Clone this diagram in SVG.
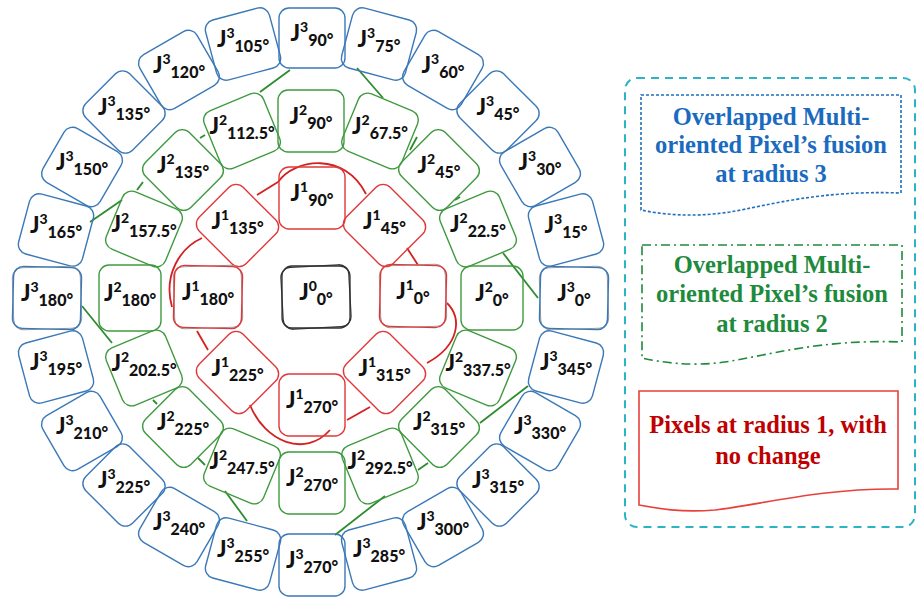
<svg xmlns="http://www.w3.org/2000/svg" width="919" height="598" viewBox="0 0 919 598">
<style>
  .b3{fill:none;stroke:#3a78b8;stroke-width:1.4}
  .b2{fill:none;stroke:#3f9a3f;stroke-width:1.4}
  .b1{fill:none;stroke:#e0383a;stroke-width:1.4}
  .b0{fill:none;stroke:#333;stroke-width:1.3}
  .sh{fill:none;stroke:#999;stroke-width:1}
  .lbl{font-family:Lato,"Liberation Sans",sans-serif;font-weight:900;font-size:22px;fill:#111;text-anchor:middle}
  .p{font-size:14px}
  .s{font-size:16px}
  .cg{fill:none;stroke:#2e8b2e;stroke-width:1.8}
  .cr{fill:none;stroke:#d42020;stroke-width:1.8}
  .lt{font-family:"Liberation Serif",serif;font-weight:bold;font-size:24.5px;text-anchor:middle}
</style>
<rect width="919" height="598" fill="#fff"/>

<g id="connectors">
  <path class="cg" d="M90,222 L122,200"/>
  <path class="cg" d="M137,190 L143,182"/>
  <path class="cg" d="M200,138 L205,135"/>
  <path class="cg" d="M260,92 L290,70"/>
  <path class="cg" d="M357,68 L383,98"/>
  <path class="cg" d="M410,150 L417,137"/>
  <path class="cg" d="M455,200 L460,197"/>
  <path class="cg" d="M503,253 L538,298"/>
  <path class="cg" d="M528,386 L480,423"/>
  <path class="cg" d="M428,463 L418,470"/>
  <path class="cg" d="M385,496 L335,535"/>
  <path class="cg" d="M247,521 L225,491"/>
  <path class="cg" d="M198,458 L205,465"/>
  <path class="cg" d="M153,400 L157,404"/>
  <path class="cg" d="M82,306 L112,343"/>
  <path class="cr" d="M257,195 L278,182"/>
  <path class="cr" d="M278,182 C295,158 345,152 366,194"/>
  <path class="cr" d="M407,248 L418,265"/>
  <path class="cr" d="M447,303 C462,318 460,345 427,363"/>
  <path class="cr" d="M370,407 L347,420"/>
  <path class="cr" d="M250,405 C265,442 305,458 330,430"/>
  <path class="cr" d="M197,331 L208,350"/>
  <path class="cr" d="M202,238 C180,248 163,275 172,307"/>
</g>

<g id="j0-0" transform="translate(316,297)">
  <rect class="b0" x="-34" y="-31" width="68" height="62" rx="10" transform="rotate(-3)"/>
  <rect class="b0" x="-34" y="-31" width="68" height="62" rx="10"/>
  <text class="lbl" y="3">J<tspan class="p" dy="-9">0</tspan><tspan class="s" dy="14">0°</tspan></text>
</g>

<g id="j1-0" transform="translate(413,296)">
  <rect class="sh" x="-33" y="-31" width="66" height="62" rx="10" transform="rotate(-2)"/>
  <rect class="b1" x="-33" y="-31" width="66" height="62" rx="10" transform="rotate(1.5)"/>
  <text class="lbl" y="3">J<tspan class="p" dy="-9">1</tspan><tspan class="s" dy="14">0°</tspan></text>
</g>
<g id="j1-45" transform="translate(384.5,225.5)">
  <rect class="b1" x="-33" y="-31" width="66" height="62" rx="10" transform="rotate(45)"/>
  <text class="lbl" y="3">J<tspan class="p" dy="-9">1</tspan><tspan class="s" dy="14">45°</tspan></text>
</g>
<g id="j1-90" transform="translate(312,198)">
  <rect class="b1" x="-33" y="-31" width="66" height="62" rx="10"/>
  <text class="lbl" y="3">J<tspan class="p" dy="-9">1</tspan><tspan class="s" dy="14">90°</tspan></text>
</g>
<g id="j1-135" transform="translate(237.5,225.5)">
  <rect class="b1" x="-33" y="-31" width="66" height="62" rx="10" transform="rotate(45)"/>
  <text class="lbl" y="3">J<tspan class="p" dy="-9">1</tspan><tspan class="s" dy="14">135°</tspan></text>
</g>
<g id="j1-180" transform="translate(208,297)">
  <rect class="sh" x="-34" y="-31" width="68" height="62" rx="10" transform="rotate(-2)"/>
  <rect class="b1" x="-34" y="-31" width="68" height="62" rx="10" transform="rotate(1.5)"/>
  <text class="lbl" y="3">J<tspan class="p" dy="-9">1</tspan><tspan class="s" dy="14">180°</tspan></text>
</g>
<g id="j1-225" transform="translate(237.5,372.5)">
  <rect class="b1" x="-33" y="-31" width="66" height="62" rx="10" transform="rotate(45)"/>
  <text class="lbl" y="3">J<tspan class="p" dy="-9">1</tspan><tspan class="s" dy="14">225°</tspan></text>
</g>
<g id="j1-270" transform="translate(312,405)">
  <rect class="b1" x="-33" y="-31" width="66" height="62" rx="10"/>
  <text class="lbl" y="3">J<tspan class="p" dy="-9">1</tspan><tspan class="s" dy="14">270°</tspan></text>
</g>
<g id="j1-315" transform="translate(384.5,372.5)">
  <rect class="b1" x="-33" y="-31" width="66" height="62" rx="10" transform="rotate(45)"/>
  <text class="lbl" y="3">J<tspan class="p" dy="-9">1</tspan><tspan class="s" dy="14">315°</tspan></text>
</g>

<g id="j2-0" transform="translate(492,298)">
  <rect class="b2" x="-31" y="-32" width="62" height="64" rx="10"/>
  <text class="lbl" y="3">J<tspan class="p" dy="-9">2</tspan><tspan class="s" dy="14">0°</tspan></text>
</g>
<g id="j2-22-5" transform="translate(478,229)">
  <rect class="b2" x="-32" y="-31" width="64" height="62" rx="10" transform="rotate(-22.5)"/>
  <text class="lbl" y="3">J<tspan class="p" dy="-9">2</tspan><tspan class="s" dy="14">22.5°</tspan></text>
</g>
<g id="j2-45" transform="translate(439,170)">
  <rect class="b2" x="-32" y="-31" width="64" height="62" rx="10" transform="rotate(45)"/>
  <text class="lbl" y="3">J<tspan class="p" dy="-9">2</tspan><tspan class="s" dy="14">45°</tspan></text>
</g>
<g id="j2-67-5" transform="translate(380,131)">
  <rect class="b2" x="-32" y="-31" width="64" height="62" rx="10" transform="rotate(22.5)"/>
  <text class="lbl" y="3">J<tspan class="p" dy="-9">2</tspan><tspan class="s" dy="14">67.5°</tspan></text>
</g>
<g id="j2-90" transform="translate(311,121)">
  <rect class="b2" x="-33" y="-31" width="66" height="62" rx="10"/>
  <text class="lbl" y="3">J<tspan class="p" dy="-9">2</tspan><tspan class="s" dy="14">90°</tspan></text>
</g>
<g id="j2-112-5" transform="translate(242,131)">
  <rect class="b2" x="-32" y="-31" width="64" height="62" rx="10" transform="rotate(-22.5)"/>
  <text class="lbl" y="3">J<tspan class="p" dy="-9">2</tspan><tspan class="s" dy="14">112.5°</tspan></text>
</g>
<g id="j2-135" transform="translate(183,170)">
  <rect class="b2" x="-32" y="-31" width="64" height="62" rx="10" transform="rotate(45)"/>
  <text class="lbl" y="3">J<tspan class="p" dy="-9">2</tspan><tspan class="s" dy="14">135°</tspan></text>
</g>
<g id="j2-157-5" transform="translate(144,229)">
  <rect class="b2" x="-32" y="-31" width="64" height="62" rx="10" transform="rotate(22.5)"/>
  <text class="lbl" y="3">J<tspan class="p" dy="-9">2</tspan><tspan class="s" dy="14">157.5°</tspan></text>
</g>
<g id="j2-180" transform="translate(130,298)">
  <rect class="b2" x="-31" y="-33" width="62" height="66" rx="10"/>
  <text class="lbl" y="3">J<tspan class="p" dy="-9">2</tspan><tspan class="s" dy="14">180°</tspan></text>
</g>
<g id="j2-202-5" transform="translate(144,368)">
  <rect class="b2" x="-32" y="-31" width="64" height="62" rx="10" transform="rotate(-22.5)"/>
  <text class="lbl" y="3">J<tspan class="p" dy="-9">2</tspan><tspan class="s" dy="14">202.5°</tspan></text>
</g>
<g id="j2-225" transform="translate(183,427)">
  <rect class="b2" x="-32" y="-31" width="64" height="62" rx="10" transform="rotate(45)"/>
  <text class="lbl" y="3">J<tspan class="p" dy="-9">2</tspan><tspan class="s" dy="14">225°</tspan></text>
</g>
<g id="j2-247-5" transform="translate(242,466)">
  <rect class="b2" x="-32" y="-31" width="64" height="62" rx="10" transform="rotate(22.5)"/>
  <text class="lbl" y="3">J<tspan class="p" dy="-9">2</tspan><tspan class="s" dy="14">247.5°</tspan></text>
</g>
<g id="j2-270" transform="translate(312,483)">
  <rect class="b2" x="-33" y="-31" width="66" height="62" rx="10"/>
  <text class="lbl" y="3">J<tspan class="p" dy="-9">2</tspan><tspan class="s" dy="14">270°</tspan></text>
</g>
<g id="j2-292-5" transform="translate(380,466)">
  <rect class="b2" x="-32" y="-31" width="64" height="62" rx="10" transform="rotate(-22.5)"/>
  <text class="lbl" y="3">J<tspan class="p" dy="-9">2</tspan><tspan class="s" dy="14">292.5°</tspan></text>
</g>
<g id="j2-315" transform="translate(439,427)">
  <rect class="b2" x="-32" y="-31" width="64" height="62" rx="10" transform="rotate(45)"/>
  <text class="lbl" y="3">J<tspan class="p" dy="-9">2</tspan><tspan class="s" dy="14">315°</tspan></text>
</g>
<g id="j2-337-5" transform="translate(478,368)">
  <rect class="b2" x="-32" y="-31" width="64" height="62" rx="10" transform="rotate(22.5)"/>
  <text class="lbl" y="3">J<tspan class="p" dy="-9">2</tspan><tspan class="s" dy="14">337.5°</tspan></text>
</g>

<g id="j3-0" transform="translate(574,298)">
  <rect class="sh" x="-34" y="-31" width="68" height="62" rx="10" transform="rotate(-2)"/>
  <rect class="b3" x="-34" y="-31" width="68" height="62" rx="10" transform="rotate(1.5)"/>
  <text class="lbl" y="3">J<tspan class="p" dy="-9">3</tspan><tspan class="s" dy="14">0°</tspan></text>
</g>
<g id="j3-15" transform="translate(566,230)">
  <rect class="b3" x="-33" y="-31" width="66" height="62" rx="10" transform="rotate(-15)"/>
  <text class="lbl" y="3">J<tspan class="p" dy="-9">3</tspan><tspan class="s" dy="14">15°</tspan></text>
</g>
<g id="j3-30" transform="translate(540,167)">
  <rect class="b3" x="-33" y="-31" width="66" height="62" rx="10" transform="rotate(-30)"/>
  <text class="lbl" y="3">J<tspan class="p" dy="-9">3</tspan><tspan class="s" dy="14">30°</tspan></text>
</g>
<g id="j3-45" transform="translate(498,112)">
  <rect class="b3" x="-33" y="-31" width="66" height="62" rx="10" transform="rotate(45)"/>
  <text class="lbl" y="3">J<tspan class="p" dy="-9">3</tspan><tspan class="s" dy="14">45°</tspan></text>
</g>
<g id="j3-60" transform="translate(443,70)">
  <rect class="b3" x="-33" y="-31" width="66" height="62" rx="10" transform="rotate(30)"/>
  <text class="lbl" y="3">J<tspan class="p" dy="-9">3</tspan><tspan class="s" dy="14">60°</tspan></text>
</g>
<g id="j3-75" transform="translate(379,44)">
  <rect class="b3" x="-33" y="-31" width="66" height="62" rx="10" transform="rotate(15)"/>
  <text class="lbl" y="3">J<tspan class="p" dy="-9">3</tspan><tspan class="s" dy="14">75°</tspan></text>
</g>
<g id="j3-90" transform="translate(312,38)">
  <rect class="b3" x="-33" y="-30" width="66" height="60" rx="10"/>
  <text class="lbl" y="3">J<tspan class="p" dy="-9">3</tspan><tspan class="s" dy="14">90°</tspan></text>
</g>
<g id="j3-105" transform="translate(243,44)">
  <rect class="b3" x="-33" y="-31" width="66" height="62" rx="10" transform="rotate(-15)"/>
  <text class="lbl" y="3">J<tspan class="p" dy="-9">3</tspan><tspan class="s" dy="14">105°</tspan></text>
</g>
<g id="j3-120" transform="translate(179,70)">
  <rect class="b3" x="-33" y="-31" width="66" height="62" rx="10" transform="rotate(-30)"/>
  <text class="lbl" y="3">J<tspan class="p" dy="-9">3</tspan><tspan class="s" dy="14">120°</tspan></text>
</g>
<g id="j3-135" transform="translate(124,112)">
  <rect class="b3" x="-33" y="-31" width="66" height="62" rx="10" transform="rotate(45)"/>
  <text class="lbl" y="3">J<tspan class="p" dy="-9">3</tspan><tspan class="s" dy="14">135°</tspan></text>
</g>
<g id="j3-150" transform="translate(82,167)">
  <rect class="b3" x="-33" y="-31" width="66" height="62" rx="10" transform="rotate(30)"/>
  <text class="lbl" y="3">J<tspan class="p" dy="-9">3</tspan><tspan class="s" dy="14">150°</tspan></text>
</g>
<g id="j3-165" transform="translate(56,230)">
  <rect class="b3" x="-33" y="-31" width="66" height="62" rx="10" transform="rotate(15)"/>
  <text class="lbl" y="3">J<tspan class="p" dy="-9">3</tspan><tspan class="s" dy="14">165°</tspan></text>
</g>
<g id="j3-180" transform="translate(47,298)">
  <rect class="sh" x="-34" y="-31" width="68" height="62" rx="10" transform="rotate(-2)"/>
  <rect class="b3" x="-34" y="-31" width="68" height="62" rx="10" transform="rotate(1.5)"/>
  <text class="lbl" y="3">J<tspan class="p" dy="-9">3</tspan><tspan class="s" dy="14">180°</tspan></text>
</g>
<g id="j3-195" transform="translate(56,367)">
  <rect class="b3" x="-33" y="-31" width="66" height="62" rx="10" transform="rotate(-15)"/>
  <text class="lbl" y="3">J<tspan class="p" dy="-9">3</tspan><tspan class="s" dy="14">195°</tspan></text>
</g>
<g id="j3-210" transform="translate(82,431)">
  <rect class="b3" x="-33" y="-31" width="66" height="62" rx="10" transform="rotate(-30)"/>
  <text class="lbl" y="3">J<tspan class="p" dy="-9">3</tspan><tspan class="s" dy="14">210°</tspan></text>
</g>
<g id="j3-225" transform="translate(124,485)">
  <rect class="b3" x="-33" y="-31" width="66" height="62" rx="10" transform="rotate(45)"/>
  <text class="lbl" y="3">J<tspan class="p" dy="-9">3</tspan><tspan class="s" dy="14">225°</tspan></text>
</g>
<g id="j3-240" transform="translate(179,527)">
  <rect class="b3" x="-33" y="-31" width="66" height="62" rx="10" transform="rotate(30)"/>
  <text class="lbl" y="3">J<tspan class="p" dy="-9">3</tspan><tspan class="s" dy="14">240°</tspan></text>
</g>
<g id="j3-255" transform="translate(243,554)">
  <rect class="b3" x="-33" y="-31" width="66" height="62" rx="10" transform="rotate(15)"/>
  <text class="lbl" y="3">J<tspan class="p" dy="-9">3</tspan><tspan class="s" dy="14">255°</tspan></text>
</g>
<g id="j3-270" transform="translate(312,565)">
  <rect class="b3" x="-33" y="-31" width="66" height="62" rx="10"/>
  <text class="lbl" y="3">J<tspan class="p" dy="-9">3</tspan><tspan class="s" dy="14">270°</tspan></text>
</g>
<g id="j3-285" transform="translate(379,554)">
  <rect class="b3" x="-33" y="-31" width="66" height="62" rx="10" transform="rotate(-15)"/>
  <text class="lbl" y="3">J<tspan class="p" dy="-9">3</tspan><tspan class="s" dy="14">285°</tspan></text>
</g>
<g id="j3-300" transform="translate(443,527)">
  <rect class="b3" x="-33" y="-31" width="66" height="62" rx="10" transform="rotate(-30)"/>
  <text class="lbl" y="3">J<tspan class="p" dy="-9">3</tspan><tspan class="s" dy="14">300°</tspan></text>
</g>
<g id="j3-315" transform="translate(498,485)">
  <rect class="b3" x="-33" y="-31" width="66" height="62" rx="10" transform="rotate(45)"/>
  <text class="lbl" y="3">J<tspan class="p" dy="-9">3</tspan><tspan class="s" dy="14">315°</tspan></text>
</g>
<g id="j3-330" transform="translate(540,431)">
  <rect class="b3" x="-33" y="-31" width="66" height="62" rx="10" transform="rotate(30)"/>
  <text class="lbl" y="3">J<tspan class="p" dy="-9">3</tspan><tspan class="s" dy="14">330°</tspan></text>
</g>
<g id="j3-345" transform="translate(566,367)">
  <rect class="b3" x="-33" y="-31" width="66" height="62" rx="10" transform="rotate(15)"/>
  <text class="lbl" y="3">J<tspan class="p" dy="-9">3</tspan><tspan class="s" dy="14">345°</tspan></text>
</g>

<g id="legend">
  <rect x="625" y="78" width="290" height="449" rx="12" fill="none" stroke="#2cb3c6" stroke-width="2" stroke-dasharray="8,6"/>
  <g id="legend-r3">
    <path d="M641,95 H901 V193 C820,190 770,205 730,212 C690,218 660,214 641,210 Z" fill="none" stroke="#1f6fc0" stroke-width="1.6" stroke-dasharray="3,2"/>
    <text class="lt" fill="#1a6bbf"><tspan x="771" y="125">Overlapped Multi-</tspan><tspan x="771" y="153">oriented Pixel’s fusion</tspan><tspan x="771" y="182">at radius 3</tspan></text>
  </g>
  <g id="legend-r2">
    <path d="M642,245 H902 V342 C820,339 770,355 725,362 C690,367 660,362 642,358 Z" fill="none" stroke="#1e8a3c" stroke-width="1.6" stroke-dasharray="9,4,2,4"/>
    <text class="lt" fill="#1e8a3c"><tspan x="772" y="273">Overlapped Multi-</tspan><tspan x="772" y="302">oriented Pixel’s fusion</tspan><tspan x="772" y="332">at radius 2</tspan></text>
  </g>
  <g id="legend-r1">
    <path d="M639,391 H898 V489 C820,488 760,505 715,510 C680,513 655,508 639,505 Z" fill="none" stroke="#e8403a" stroke-width="1.6"/>
    <text class="lt" fill="#c00000"><tspan x="768" y="433">Pixels at radius 1, with</tspan><tspan x="768" y="464">no change</tspan></text>
  </g>
</g>
</svg>
